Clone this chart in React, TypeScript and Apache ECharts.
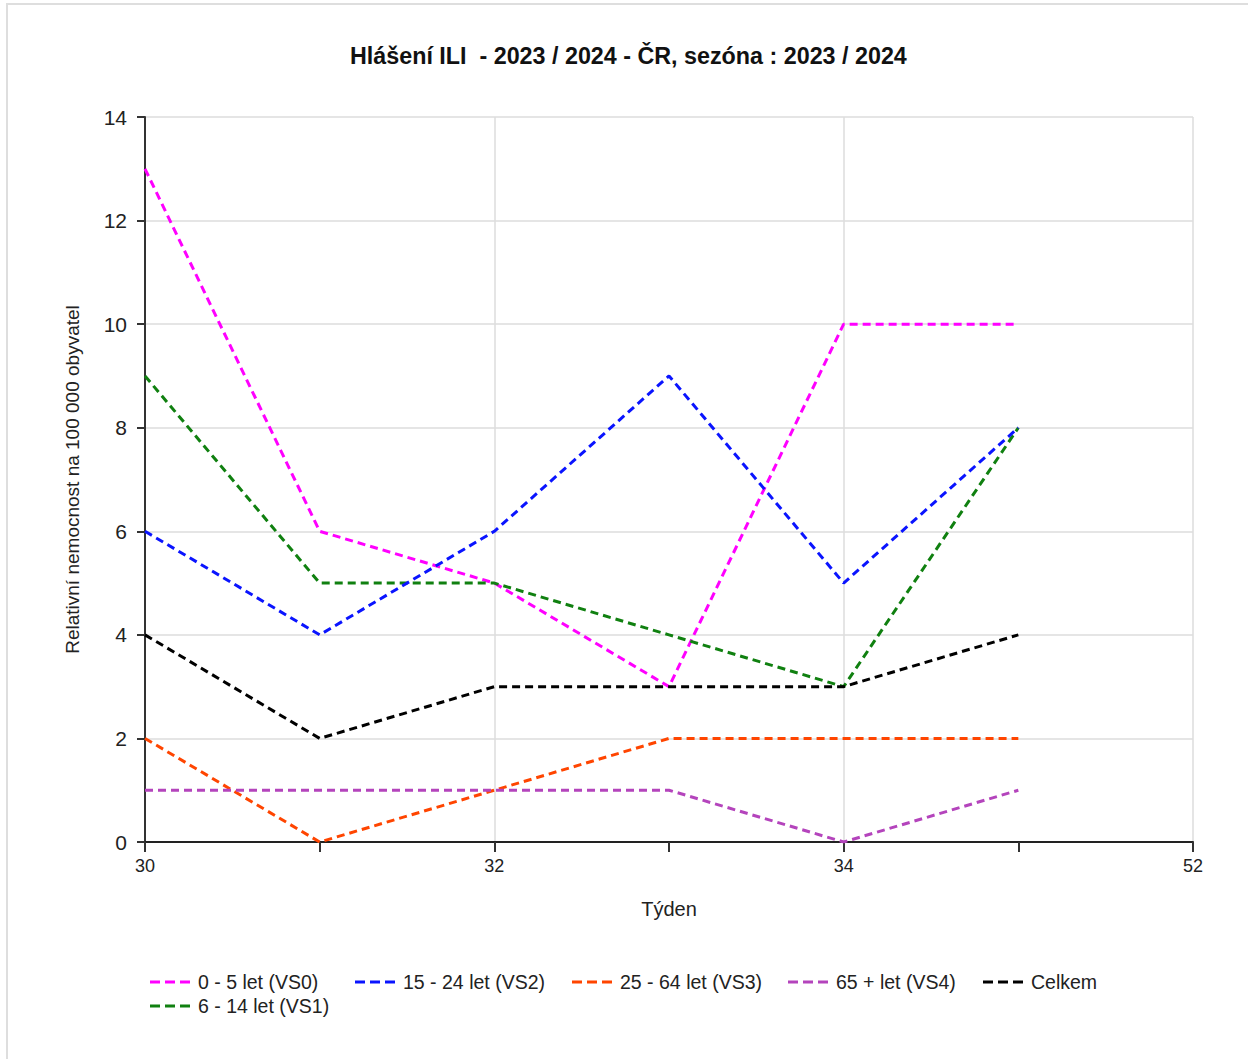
import React, { useEffect, useRef } from "react";
import * as echarts from "echarts";

const weeks = ["30", "31", "32", "33", "34", "35", "52"];
const vs0 = [13, 6, 5, 3, 10, 10, null];
const vs1 = [9, 5, 5, 4, 3, 8, null];
const vs2 = [6, 4, 6, 9, 5, 8, null];
const vs3 = [2, 0, 1, 2, 2, 2, null];
const vs4 = [1, 1, 1, 1, 0, 1, null];
const celkem = [4, 2, 3, 3, 3, 4, null];

const names = {
  vs0: "0 - 5 let (VS0)",
  vs1: "6 - 14 let (VS1)",
  vs2: "15 - 24 let (VS2)",
  vs3: "25 - 64 let (VS3)",
  vs4: "65 + let (VS4)",
  celkem: "Celkem",
};

const colors = {
  vs0: "#ff00ff",
  vs1: "#108010",
  vs2: "#0a14ff",
  vs3: "#ff4500",
  vs4: "#b444bc",
  celkem: "#000000",
};

const FONT = "'Liberation Sans', Arial, sans-serif";
const dashIcon = "path://M0,0h10v3H0z M15,0h10v3H15z M30,0h10v3H30z";

export default function App() {
  const ref = useRef<HTMLDivElement>(null);
  useEffect(() => {
    if (!ref.current) return;
    const chart = echarts.init(ref.current, undefined, { renderer: "svg" });
    const mk = (key: string, data: (number | null)[]) => ({
      name: (names as any)[key],
      type: "line",
      data,
      symbol: "none",
      connectNulls: false,
      itemStyle: { color: (colors as any)[key] },
      lineStyle: { color: (colors as any)[key], width: 3, type: [8, 5] },
    });
    const legendItem = (name: string, left: number, top: number) => ({
      icon: dashIcon,
      itemWidth: 40,
      itemHeight: 3,
      padding: 0,
      textStyle: { fontFamily: FONT, fontSize: 19.5, color: "#222", padding: [0, 0, 0, 3] },
      orient: "horizontal",
      left,
      top,
      data: [name],
    });
    chart.setOption({
      animation: false,
      backgroundColor: "transparent",
      textStyle: { fontFamily: FONT },
      title: {
        text: "Hlášení ILI  - 2023 / 2024 - ČR, sezóna : 2023 / 2024",
        left: 350,
        top: 44,
        padding: 0,
        textStyle: { fontFamily: FONT, fontSize: 23.3, fontWeight: "bold", color: "#111" },
      },
      legend: [
        legendItem(names.vs0, 150, 972),
        legendItem(names.vs2, 355, 972),
        legendItem(names.vs3, 572, 972),
        legendItem(names.vs4, 788, 972),
        legendItem(names.celkem, 983, 972),
        legendItem(names.vs1, 150, 996),
      ],
      grid: { left: 145, right: 55, top: 117, bottom: 217, containLabel: false },
      xAxis: {
        type: "category",
        data: weeks,
        boundaryGap: false,
        name: "Týden",
        nameLocation: "middle",
        nameGap: 57,
        nameTextStyle: { fontFamily: FONT, fontSize: 20, color: "#222" },
        axisLine: { lineStyle: { color: "#222", width: 2 } },
        axisTick: { show: true, length: 10, interval: 0, lineStyle: { color: "#333", width: 2 } },
        axisLabel: { interval: 1, margin: 15, fontFamily: FONT, fontSize: 18, color: "#222" },
        splitLine: { show: true, interval: 1, lineStyle: { color: "#dcdcdc", width: 1.5 } },
      },
      yAxis: {
        type: "value",
        min: 0,
        max: 14,
        interval: 2,
        name: "Relativní nemocnost na 100 000 obyvatel",
        nameLocation: "middle",
        nameGap: 63,
        nameTextStyle: { fontFamily: FONT, fontSize: 19, color: "#222" },
        axisLine: { show: true, lineStyle: { color: "#333", width: 2 } },
        axisTick: { show: true, length: 8, lineStyle: { color: "#333", width: 2 } },
        axisLabel: { margin: 18, fontFamily: FONT, fontSize: 21, color: "#222" },
        splitLine: { show: true, lineStyle: { color: "#dcdcdc", width: 1.5 } },
      },
      series: [
        mk("vs0", vs0),
        mk("vs1", vs1),
        mk("vs2", vs2),
        mk("vs3", vs3),
        mk("vs4", vs4),
        mk("celkem", celkem),
      ],
    });
    return () => chart.dispose();
  }, []);
  return (
    <div style={{ position: "fixed", left: 0, top: 0, width: 1248, height: 1059, background: "#fff" }}>
      <div
        style={{
          position: "absolute",
          left: 6,
          top: 3,
          right: 0,
          bottom: 0,
          borderTop: "2px solid #dedede",
          borderLeft: "2px solid #dedede",
        }}
      />
      <div ref={ref} style={{ position: "absolute", left: 0, top: 0, width: 1248, height: 1059 }} />
    </div>
  );
}
